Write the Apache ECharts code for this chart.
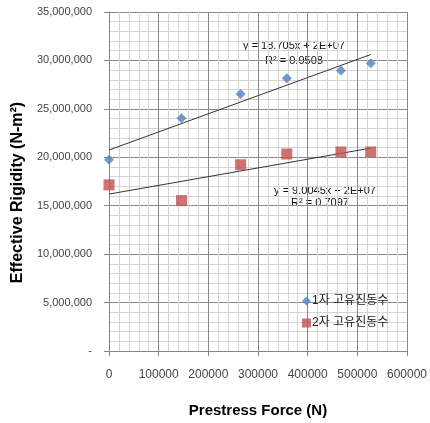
<!DOCTYPE html>
<html>
<head>
<meta charset="utf-8">
<script src="https://cdn.jsdelivr.net/npm/echarts@6/dist/echarts.min.js"></script>
<style>
  html, body { margin: 0; padding: 0; background: #fff; }
  #chart { width: 430px; height: 423px; }
</style>
</head>
<body>
<div id="chart"></div>
<script>
// 데이터
var forceN = [0, 146000, 265000, 358000, 467000, 527000];
var mode1 = [19740000, 24040000, 26530000, 28170000, 28950000, 29720000];
var mode2 = [17150000, 15530000, 19230000, 20340000, 20550000, 20550000];
var seriesNames = ['1자 고유진동수', '2자 고유진동수'];
var xTicks = [0, 100000, 200000, 300000, 400000, 500000, 600000];
var yTicks = [0, 5000000, 10000000, 15000000, 20000000, 25000000, 30000000, 35000000];
// 추세선 (기울기, 절편) - 그림에서 읽음
var trend1 = { slope: 18.705, intercept: 20750000 };
var trend2 = { slope: 9.0045, intercept: 16200000 };
var eq1 = ['y = 18.705x + 2E+07', 'R² = 0.9508'];
var eq2 = ['y = 9.0045x + 2E+07', 'R² = 0.7097'];

var font = 'Liberation Sans, Noto Sans CJK KR, sans-serif';

function zip(xs, ys) {
  return xs.map(function (x, i) { return [x, ys[i]]; });
}
function trendLine(t) {
  var x0 = forceN[0], x1 = forceN[forceN.length - 1];
  return [[x0, t.intercept + t.slope * x0], [x1, t.intercept + t.slope * x1]];
}

var chart = echarts.init(document.getElementById('chart'));
chart.setOption({
  animation: false,
  grid: { left: 109, right: 21, top: 12, bottom: 64 },
  xAxis: {
    type: 'value',
    min: xTicks[0],
    max: xTicks[xTicks.length - 1],
    interval: xTicks[1] - xTicks[0],
    name: 'Prestress Force (N)',
    nameLocation: 'middle',
    nameGap: 52,
    nameTextStyle: { fontFamily: font, fontWeight: 'bold', fontSize: 15, color: '#000' },
    axisLine: { lineStyle: { color: '#868686' } },
    axisTick: { show: true, length: 5, lineStyle: { color: '#868686' } },
    axisLabel: {
      fontFamily: font, fontSize: 12, color: '#444', margin: 18,
      formatter: function (v) { return String(v); }
    },
    splitLine: { show: true, lineStyle: { color: '#8a8a8a', width: 1 } },
    minorTick: { show: false, splitNumber: 5 },
    minorSplitLine: { show: true, lineStyle: { color: '#d4d4d4', width: 1 } }
  },
  yAxis: {
    type: 'value',
    min: yTicks[0],
    max: yTicks[yTicks.length - 1],
    interval: yTicks[1] - yTicks[0],
    name: 'Effective Rigidity (N-m²)',
    nameLocation: 'middle',
    nameGap: 80,
    nameTextStyle: { fontFamily: font, fontWeight: 'bold', fontSize: 16, color: '#000', padding: [0, 22, 0, 0] },
    axisLine: { show: true, lineStyle: { color: '#868686' } },
    axisTick: { show: true, length: 5, lineStyle: { color: '#868686' } },
    axisLabel: {
      fontFamily: font, fontSize: 11, color: '#444', margin: 17,
      formatter: function (v) { return v === 0 ? '-' : v.toLocaleString('en-US'); }
    },
    splitLine: { show: true, lineStyle: { color: '#8a8a8a', width: 1 } },
    minorTick: { show: false, splitNumber: 5 },
    minorSplitLine: { show: true, lineStyle: { color: '#d4d4d4', width: 1 } }
  },
  legend: {
    orient: 'vertical',
    left: 297,
    top: 290,
    itemGap: 10,
    itemWidth: 9,
    itemHeight: 9,
    data: seriesNames,
    textStyle: { fontFamily: font, fontSize: 12, color: '#222', padding: [8, 0, 0, -4] }
  },
  series: [
    {
      name: seriesNames[0],
      type: 'scatter',
      symbol: 'diamond',
      symbolSize: 10,
      itemStyle: { color: '#4F81BD' },
      data: zip(forceN, mode1),
      z: 5
    },
    {
      name: seriesNames[1],
      type: 'scatter',
      symbol: 'rect',
      symbolSize: 11,
      itemStyle: { color: '#C0504D' },
      data: zip(forceN, mode2),
      z: 5
    },
    {
      type: 'line',
      showSymbol: false,
      silent: true,
      lineStyle: { color: '#333', width: 1 },
      data: trendLine(trend1),
      z: 4
    },
    {
      type: 'line',
      showSymbol: false,
      silent: true,
      lineStyle: { color: '#333', width: 1 },
      data: trendLine(trend2),
      z: 4
    }
  ],
  graphic: [
    { type: 'text', x: 294, y: 40, style: { text: eq1[0], font: '11px ' + font, fill: '#111', align: 'center' } },
    { type: 'text', x: 294, y: 55, style: { text: eq1[1], font: '11px ' + font, fill: '#111', align: 'center' } },
    { type: 'text', x: 325, y: 185, style: { text: eq2[0], font: '11px ' + font, fill: '#111', align: 'center' } },
    { type: 'text', x: 320, y: 197, style: { text: eq2[1], font: '11px ' + font, fill: '#111', align: 'center' } }
  ]
});
</script>
</body>
</html>
